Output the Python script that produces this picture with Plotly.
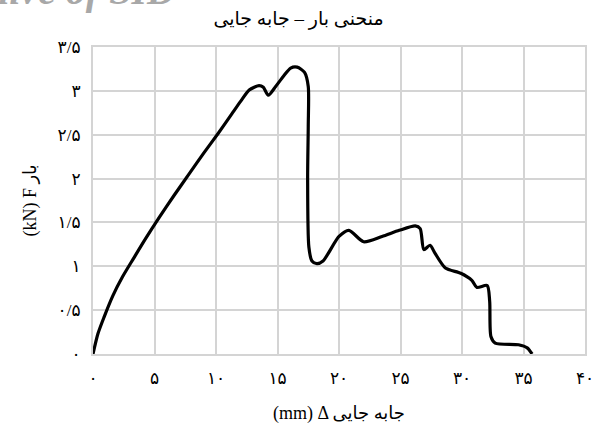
import plotly.graph_objects as go

disp_mm = [0, 0.4, 0.9, 1.6, 2.4, 3.3, 4.3, 5.4, 6.6, 7.8, 9.0, 10.2, 11.3, 12.0, 12.7, 13.5,
           13.85, 14.25, 14.85, 15.5, 16.07, 16.6, 17.2, 17.5, 17.5, 17.45, 17.55, 17.8, 18.2,
           18.7, 20.0, 20.8, 22.0, 23.5, 24.9, 26.2, 26.6, 26.9, 27.4, 27.8, 28.65, 29.9,
           30.8, 31.2, 32.05, 32.25, 32.35, 32.7, 34.6, 35.3, 35.7]
load_kn = [0, 0.23, 0.42, 0.66, 0.88, 1.09, 1.32, 1.56, 1.81, 2.05, 2.29, 2.52, 2.74, 2.88, 3.01, 3.06,
           3.04, 2.95, 3.05, 3.17, 3.26, 3.27, 3.21, 3.05, 2.6, 2.0, 1.22, 1.06, 1.03,
           1.06, 1.34, 1.41, 1.28, 1.34, 1.41, 1.46, 1.43, 1.19, 1.24, 1.15, 0.98, 0.92,
           0.84, 0.76, 0.78, 0.6, 0.2, 0.125, 0.105, 0.07, 0.0]

x_tickvals = [0, 5, 10, 15, 20, 25, 30, 35, 40]
x_ticktext = ["۰", "۵", "۱۰", "۱۵", "۲۰", "۲۵", "۳۰", "۳۵", "۴۰"]
y_tickvals = [0, 0.5, 1, 1.5, 2, 2.5, 3, 3.5]
y_ticktext = ["۰", "۰/۵", "۱", "۱/۵", "۲", "۲/۵", "۳", "۳/۵"]

title_text = "منحنی بار – جابه جایی"
x_title = "(mm) Δ جابه جایی"
y_title = "(kN) F بار"

FONT = "Liberation Serif, DejaVu Serif, DejaVu Sans, serif"
GRID = "#d4d4d4"

fig = go.Figure()
fig.add_trace(go.Scatter(
    x=disp_mm, y=load_kn, mode="lines",
    line=dict(color="black", width=3.2, shape="spline", smoothing=0.7),
    showlegend=False, hoverinfo="skip"))

fig.update_layout(
    width=597, height=428,
    margin=dict(l=93, r=12, t=47, b=74),
    paper_bgcolor="white", plot_bgcolor="white",
    font=dict(family=FONT, color="black", size=13),
    title=dict(text=title_text, x=0.5, xref="container", xanchor="center",
               y=0.958, yanchor="middle",
               font=dict(family=FONT, size=19, color="black")),
    xaxis=dict(range=[0, 40], tickvals=x_tickvals, ticktext=x_ticktext,
               showgrid=True, gridcolor=GRID, gridwidth=1.5,
               showline=True, linecolor=GRID, linewidth=2, mirror=True,
               zeroline=False, ticks="", ticklen=0, tickfont=dict(size=17),
               ticklabelstandoff=8, automargin=False,
               title=dict(text=x_title, font=dict(size=18), standoff=19)),
    yaxis=dict(range=[0, 3.5], tickvals=y_tickvals, ticktext=y_ticktext,
               showgrid=True, gridcolor=GRID, gridwidth=1.5,
               showline=True, linecolor=GRID, linewidth=2, mirror=True,
               zeroline=False, ticks="", ticklen=0, tickfont=dict(size=17),
               ticklabelstandoff=7, automargin=False,
               title=dict(text=y_title, font=dict(size=18), standoff=16)),
)

fig.add_annotation(
    text="<b><i>Archive of SID</i></b>", xref="paper", yref="paper",
    x=0.173, y=1.104, xanchor="right", yanchor="bottom", showarrow=False,
    font=dict(family=FONT, size=40, color="#a8a8a8"))

fig.write_html("out.html", config={"displayModeBar": False},
               post_script="document.body.style.margin='0';")
